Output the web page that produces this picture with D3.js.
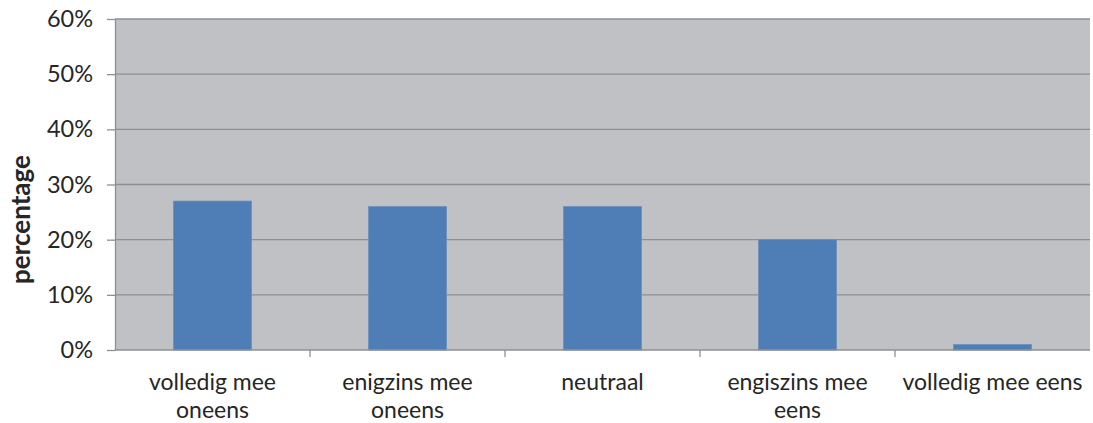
<!DOCTYPE html>
<html>
<head>
<meta charset="utf-8">
<script src="https://cdn.jsdelivr.net/npm/d3@7"></script>
<style>
  body { margin: 0; background: #fff; }
  svg { display: block; }
  text { font-family: Lato, "Open Sans", "Liberation Sans", sans-serif; fill: #262626; }
</style>
</head>
<body>
<svg id="chart" width="1093" height="423"></svg>
<script>
// Survey answer categories (line-broken as shown under the axis)
const categories = [
  "volledig mee oneens",
  "enigzins mee oneens",
  "neutraal",
  "engiszins mee eens",
  "volledig mee eens"
];
const categoryLines = [
  ["volledig mee", "oneens"],
  ["enigzins mee", "oneens"],
  ["neutraal"],
  ["engiszins mee", "eens"],
  ["volledig mee eens"]
];
// Share of respondents per answer (%)
const values = [27, 26, 26, 20, 1];
const yTicks = [0, 10, 20, 30, 40, 50, 60];

const svg = d3.select("#chart");
const margin = { left: 115, right: 3, top: 19, bottom: 73 };
const W = 1093, H = 423;

const x = d3.scaleBand().domain(categories)
  .range([margin.left, W - margin.right]).paddingInner(0).paddingOuter(0);
const y = d3.scaleLinear().domain([0, 60]).range([H - margin.bottom, margin.top]);

// plot background
svg.append("rect")
  .attr("x", margin.left).attr("y", margin.top)
  .attr("width", W - margin.right - margin.left)
  .attr("height", y(0) - margin.top)
  .attr("fill", "#c0c1c5");

// horizontal grid lines
svg.append("g").selectAll("line").data(yTicks.filter(d => d > 0)).join("line")
  .attr("x1", margin.left).attr("x2", W - margin.right)
  .attr("y1", d => y(d)).attr("y2", d => y(d))
  .attr("stroke", "#8e8f93").attr("stroke-width", 1.3);

// bars
const barW = x.bandwidth() * 0.4;
svg.append("g").selectAll("rect").data(values).join("rect")
  .attr("x", (d, i) => x(categories[i]) + (x.bandwidth() - barW) / 2)
  .attr("y", d => y(d))
  .attr("width", barW)
  .attr("height", d => y(0) - y(d))
  .attr("fill", "#4f7db5")
  .attr("stroke", "#6b90bf").attr("stroke-width", 0.8);

// y axis
const yAxis = svg.append("g")
  .attr("transform", `translate(${margin.left},0)`)
  .call(d3.axisLeft(y).tickValues(yTicks).tickFormat(d => d + "%").tickSize(8).tickSizeOuter(0));
yAxis.select(".domain").attr("stroke", "#8e8f93").attr("stroke-width", 1.3);
yAxis.selectAll(".tick line").attr("stroke", "#8e8f93").attr("stroke-width", 1.3);
yAxis.selectAll(".tick text")
  .attr("x", -22).attr("font-size", 23.5).style("fill", "#262626")
  .style("font-family", "Lato, 'Open Sans', sans-serif");

// x axis with ticks at category boundaries
const xAxisG = svg.append("g").attr("transform", `translate(0,${y(0)})`);
xAxisG.append("line")
  .attr("x1", margin.left).attr("x2", W - margin.right)
  .attr("stroke", "#8e8f93").attr("stroke-width", 1.3);
const boundaries = categories.slice(1).map(c => x(c));
xAxisG.selectAll("line.tick").data(boundaries).join("line")
  .attr("class", "tick")
  .attr("x1", d => d).attr("x2", d => d)
  .attr("y1", 0).attr("y2", 7)
  .attr("stroke", "#8e8f93").attr("stroke-width", 1.3);

// category labels, one text element per line
const labelRows = categories.flatMap((c, i) =>
  categoryLines[i].map((t, j) => ({ c, t, j })));
svg.append("g").selectAll("text").data(labelRows).join("text")
  .attr("x", d => x(d.c) + x.bandwidth() / 2)
  .attr("y", d => y(0) + 40 + d.j * 27.8)
  .attr("text-anchor", "middle")
  .attr("font-size", 23)
  .text(d => d.t);

// y axis title
svg.append("text")
  .attr("transform", `translate(30,${(margin.top + y(0)) / 2 + 35}) rotate(-90)`)
  .attr("text-anchor", "middle")
  .attr("font-size", 26).attr("font-weight", "bold")
  .text("percentage");
</script>
</body>
</html>
